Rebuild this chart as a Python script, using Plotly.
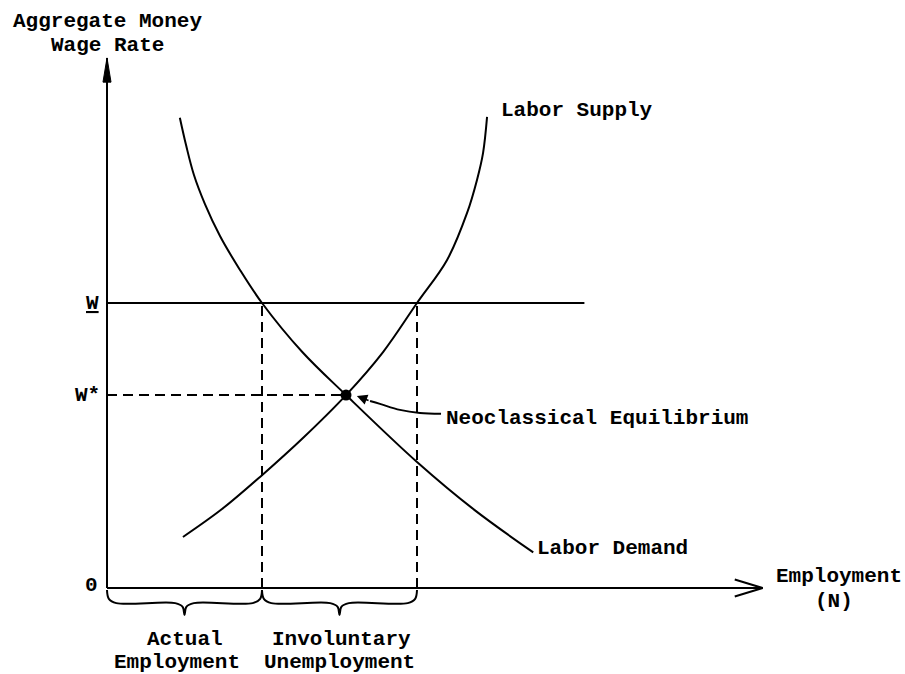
import plotly.graph_objects as go

# ---------------- data (economic units) ----------------
demand_N = [4.7, 5.10, 5.61, 6.32, 7.29, 8.58, 10.0, 12.6, 15.42, 20.0, 23.7, 27.5]
demand_W = [16.5, 15.54, 14.49, 13.47, 12.35, 11.16, 10.0, 8.28, 6.77, 4.42, 2.74, 1.25]

supply_N = [4.9, 7.42, 10.0, 12.71, 15.42, 17.81, 20.0, 21.94, 23.23, 23.87, 24.26, 24.52]
supply_W = [1.79, 2.77, 3.96, 5.30, 6.77, 8.28, 10.0, 11.51, 13.16, 14.32, 15.26, 16.53]

W_bar = 10.0          # minimum (rigid) money wage
W_star = 6.77         # neoclassical equilibrium wage
N_star = 15.42        # neoclassical equilibrium employment
N_actual = 10.0       # employment demanded at W_bar
N_supplied = 20.0     # labour supplied at W_bar
W_line_end = 30.8
x_axis_end = 42.3
y_axis_top = 18.6

# equilibrium pointer (curved arrow) path
ptr_N = [21.55, 20.19, 18.9, 17.61, 16.97]
ptr_W = [6.11, 6.14, 6.25, 6.46, 6.56]

FONT = "Liberation Mono"
INK = "#000000"
FS = 21

fig = go.Figure()

def line(xs, ys, width=2, dash=None, shape="linear"):
    fig.add_trace(go.Scatter(x=xs, y=ys, mode="lines", hoverinfo="skip",
                             line=dict(color=INK, width=width, dash=dash, shape=shape)))

# axes
line([0, 0], [0, y_axis_top], width=2)
line([0, x_axis_end], [0, 0], width=2)
# y arrowhead (filled narrow)
fig.add_trace(go.Scatter(x=[0, -0.26, 0.26, 0], y=[y_axis_top, y_axis_top - 0.85, y_axis_top - 0.85, y_axis_top],
                         mode="lines", fill="toself", fillcolor=INK, line=dict(color=INK, width=1), hoverinfo="skip"))
# x arrowhead (open chevron)
line([x_axis_end - 1.8, x_axis_end, x_axis_end - 1.8], [0.3, 0, -0.3], width=2)

# W-bar line and dashed guides
line([0, W_line_end], [W_bar, W_bar], width=2)
line([0, N_star], [W_star, W_star], width=2, dash="10px,6px")
line([N_actual, N_actual], [0, W_bar], width=2, dash="10px,6px")
line([N_supplied, N_supplied], [0, W_bar], width=2, dash="10px,6px")

# curves
line(demand_N, demand_W, width=2, shape="spline")
line(supply_N, supply_W, width=2, shape="spline")

# equilibrium point
fig.add_trace(go.Scatter(x=[N_star], y=[W_star], mode="markers", hoverinfo="skip",
                         marker=dict(color=INK, size=11, symbol="circle")))

# pointer
line(ptr_N, ptr_W, width=2, shape="spline")

# braces
def brace(x0, x1):
    xm = (x0 + x1) / 2
    xs = [x0, x0 + 0.12, x0 + 0.6, xm - 0.6, xm - 0.12, xm, xm + 0.12, xm + 0.6, x1 - 0.6, x1 - 0.12, x1]
    ys = [-0.07, -0.38, -0.53, -0.53, -0.66, -0.95, -0.66, -0.53, -0.53, -0.38, -0.07]
    line(xs, ys, width=2, shape="spline")

brace(0, N_actual)
brace(N_actual, N_supplied)

annotations = []

def txt(x, y, s, xanchor="center", size=FS):
    annotations.append(dict(x=x, y=y, xref="x", yref="y", text=s, showarrow=False,
                            xanchor=xanchor, yanchor="middle",
                            font=dict(family=FONT, size=size, color=INK, weight="bold")))

txt(0, 19.86, "Aggregate Money")
txt(0, 19.05, "Wage Rate")
txt(-0.39, W_bar, "<u>W</u>", xanchor="right")
txt(-0.32, W_star, "W*", xanchor="right")
txt(-0.97, 0.1, "0")
txt(47.2, 0.39, "Employment")
txt(46.9, -0.49, "(N)")
txt(27.6, 1.40, "Labor Demand", xanchor="left")
txt(25.3, 16.77, "Labor Supply", xanchor="left")
txt(21.75, 5.96, "Neoclassical Equilibrium", xanchor="left")
txt(5.03, -1.82, "Actual")
txt(4.52, -2.63, "Employment")
txt(15.16, -1.82, "Involuntary")
txt(14.97, -2.63, "Unemployment")

# arrowhead of pointer
annotations.append(dict(x=N_star + 0.7, y=W_star - 0.03, ax=ptr_N[-1], ay=ptr_W[-1],
                        xref="x", yref="y", axref="x", ayref="y", text="",
                        showarrow=True, arrowhead=2, arrowsize=1.3, arrowwidth=1.6,
                        arrowcolor=INK, standoff=0))

kx, ky = 15.5, 28.5
fig.update_layout(
    width=905, height=674, autosize=False,
    margin=dict(l=0, r=0, t=0, b=0),
    paper_bgcolor="white", plot_bgcolor="white",
    showlegend=False,
    xaxis=dict(range=[-107 / kx, 798 / kx], visible=False, fixedrange=True),
    yaxis=dict(range=[-86 / ky, 588 / ky], visible=False, fixedrange=True),
    annotations=annotations,
)

fig.write_html("out.html", config={"displayModeBar": False},
               post_script="document.body.style.margin='0';document.body.style.padding='0';")
